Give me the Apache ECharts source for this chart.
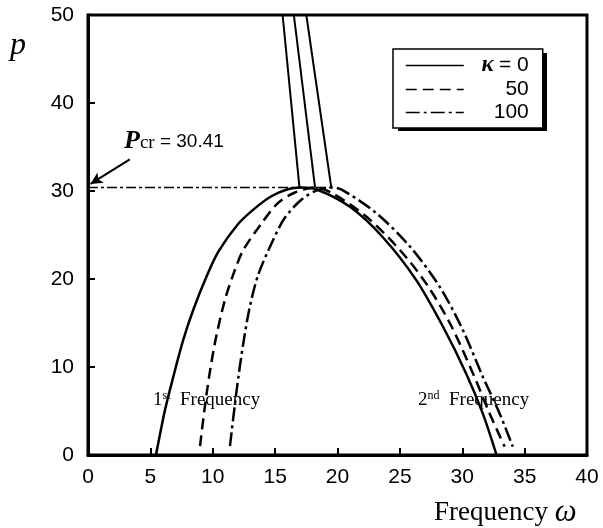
<!DOCTYPE html>
<html>
<head>
<meta charset="utf-8">
<script src="https://cdn.jsdelivr.net/npm/echarts@6/dist/echarts.min.js"></script>
<style>
  html, body { margin: 0; padding: 0; background: #fff; }
  #chart { width: 603px; height: 528px; }
</style>
</head>
<body>
<div id="chart"></div>
<script>
// values: [omega, p]
var seriesNames = ['κ = 0', '50', '100'];
var kappa0 = [[5.45, 0], [6.17, 5.1], [6.84, 8.9], [7.64, 13.1], [8.44, 16.5], [9.51, 20.3], [10.45, 23.1],
  [12.0, 26.2], [13.35, 28.0], [14.7, 29.4], [16.0, 30.2], [17.0, 30.41], [18.3, 30.2], [21.0, 28.2],
  [23.6, 24.8], [26.3, 19.9], [28.45, 14.6], [30.3, 9.3], [31.65, 4.7], [32.75, 0]];
var kappa50 = [[8.98, 1.0], [9.51, 7.0], [10.17, 12.7], [10.97, 17.6], [11.77, 21.0], [12.45, 23.3],
  [13.9, 26.3], [15.2, 28.6], [16.55, 29.8], [18.2, 30.41], [19.64, 29.7], [22.3, 27.1], [25.0, 23.3],
  [27.1, 19.5], [29.0, 15.0], [30.85, 9.3], [32.2, 4.7], [33.4, 0.95]];
var kappa100 = [[11.38, 1.0], [11.92, 7.4], [12.45, 12.7], [12.98, 16.9], [13.65, 20.5], [14.7, 24.0],
  [15.75, 26.9], [17.1, 29.0], [18.3, 30.05], [19.5, 30.41], [20.4, 30.1], [23.1, 27.5], [25.8, 23.7],
  [28.2, 19.1], [30.05, 14.2], [31.65, 8.9], [33.0, 4.7], [34.05, 0.95]];
// branches above the critical load
var upper0 = [[15.6, 50], [16.95, 30.41]];
var upper50 = [[16.5, 50], [18.2, 30.41]];
var upper100 = [[17.5, 50], [19.5, 30.41]];
var pcr = 30.41;
var pcrLine = [[0, pcr], [19.5, pcr]];
var arrowFrom = [3.35, 33.6];
var arrowTo = [0.2, 30.8];
var xTicks = [0, 5, 10, 15, 20, 25, 30, 35, 40];
var yTicks = [0, 10, 20, 30, 40, 50];

var chart = echarts.init(document.getElementById('chart'));
var sans = 'Liberation Sans';
var serif = 'Liberation Serif';

function arch(name, data, dash) {
  return {
    name: name, type: 'line', data: data,
    symbol: 'none', showSymbol: false, smooth: 0.3,
    lineStyle: { color: '#000', width: 2.5, type: dash },
    itemStyle: { color: '#000' },
    silent: true, z: 3
  };
}
function straight(data, w, dash) {
  return {
    type: 'line', data: data, symbol: 'none',
    lineStyle: { color: '#000', width: w, type: dash },
    silent: true, z: 3
  };
}

var pcrSeries = straight(pcrLine, 1.5, [10, 3, 3, 3]);
pcrSeries.markLine = {
  silent: true, symbol: ['none', 'arrow'], symbolSize: [9, 12],
  label: { show: false },
  lineStyle: { color: '#000', width: 2, type: 'solid' },
  data: [[{ coord: arrowFrom }, { coord: arrowTo }]]
};

var option = {
  animation: false,
  backgroundColor: '#fff',
  grid: { left: 88, right: 16, top: 15, bottom: 73, show: true, borderColor: '#000', borderWidth: 3, z: 5 },
  xAxis: {
    type: 'value', min: 0, max: 40, interval: 5,
    axisLine: { show: true, lineStyle: { color: '#000', width: 3 } },
    axisTick: { show: true, inside: true, length: 7, lineStyle: { color: '#000', width: 2 } },
    axisLabel: { color: '#000', fontFamily: sans, fontSize: 21, margin: 12,
      formatter: function (v) { return xTicks.indexOf(v) >= 0 ? String(v) : ''; } },
    splitLine: { show: false }
  },
  yAxis: {
    type: 'value', min: 0, max: 50, interval: 10,
    axisLine: { show: true, lineStyle: { color: '#000', width: 3 } },
    axisTick: { show: true, inside: true, length: 7, lineStyle: { color: '#000', width: 2 } },
    axisLabel: { color: '#000', fontFamily: sans, fontSize: 21, margin: 14,
      formatter: function (v) { return yTicks.indexOf(v) >= 0 ? String(v) : ''; } },
    splitLine: { show: false }
  },
  legend: {
    data: seriesNames,
    orient: 'vertical', left: 393, top: 49, z: 10,
    padding: [5, 14, 5, 12], itemGap: 2,
    itemWidth: 58, itemHeight: 12,
    backgroundColor: '#fff', borderColor: '#000', borderWidth: 1.5,
    lineStyle: { width: 1.5 },
    itemStyle: { opacity: 0 },
    selectedMode: false,
    textStyle: {
      color: '#000', fontFamily: sans, fontSize: 21, lineHeight: 20,
      rich: {
        k: { fontFamily: serif, fontStyle: 'italic', fontWeight: 'bold', fontSize: 23, width: 25, align: 'right' },
        r: { fontFamily: sans, fontSize: 21, width: 35, align: 'right' },
        v: { fontFamily: sans, fontSize: 21, width: 60, align: 'right' }
      }
    },
    formatter: function (name) {
      if (name === seriesNames[0]) return '{k|κ}{r|= 0}';
      return '{v|' + name + '}';
    }
  },
  graphic: [
    // legend drop shadow
    { type: 'rect', left: 398, top: 53, z: 1, shape: { width: 149, height: 78 }, style: { fill: '#000' } },
    { type: 'text', left: 10, top: 30, style: { text: 'p', fontFamily: serif, fontStyle: 'italic', fontSize: 32, fill: '#000' } },
    { type: 'text', left: 124, top: 128, style: {
      text: '{P|P}{c|cr}{e| = 30.41}',
      rich: {
        P: { fontFamily: serif, fontStyle: 'italic', fontWeight: 'bold', fontSize: 26, fill: '#000' },
        c: { fontFamily: serif, fontSize: 19, fill: '#000', padding: [4, 0, 0, 0] },
        e: { fontFamily: sans, fontSize: 19, fill: '#000', padding: [2, 0, 0, 0] }
      } } },
    { type: 'text', left: 153, top: 390, style: {
      text: '{n|1}{s|st}{t|  Frequency}',
      rich: {
        n: { fontFamily: serif, fontSize: 19, fill: '#000' },
        s: { fontFamily: serif, fontSize: 12, fill: '#000', padding: [0, 0, 9, 0] },
        t: { fontFamily: serif, fontSize: 19, fill: '#000' }
      } } },
    { type: 'text', left: 418, top: 390, style: {
      text: '{n|2}{s|nd}{t|  Frequency}',
      rich: {
        n: { fontFamily: serif, fontSize: 19, fill: '#000' },
        s: { fontFamily: serif, fontSize: 12, fill: '#000', padding: [0, 0, 9, 0] },
        t: { fontFamily: serif, fontSize: 19, fill: '#000' }
      } } },
    { type: 'text', left: 434, top: 497, style: {
      text: '{t|Frequency }{w|ω}',
      rich: {
        t: { fontFamily: serif, fontSize: 27, fill: '#000' },
        w: { fontFamily: serif, fontStyle: 'italic', fontSize: 31, fill: '#000' }
      } } }
  ],
  series: [
    arch(seriesNames[0], kappa0, 'solid'),
    arch(seriesNames[1], kappa50, [11, 6]),
    arch(seriesNames[2], kappa100, [14, 4, 3, 4]),
    straight(upper0, 2, 'solid'),
    straight(upper50, 2, 'solid'),
    straight(upper100, 2, 'solid'),
    pcrSeries
  ]
};
chart.setOption(option);
</script>
</body>
</html>
